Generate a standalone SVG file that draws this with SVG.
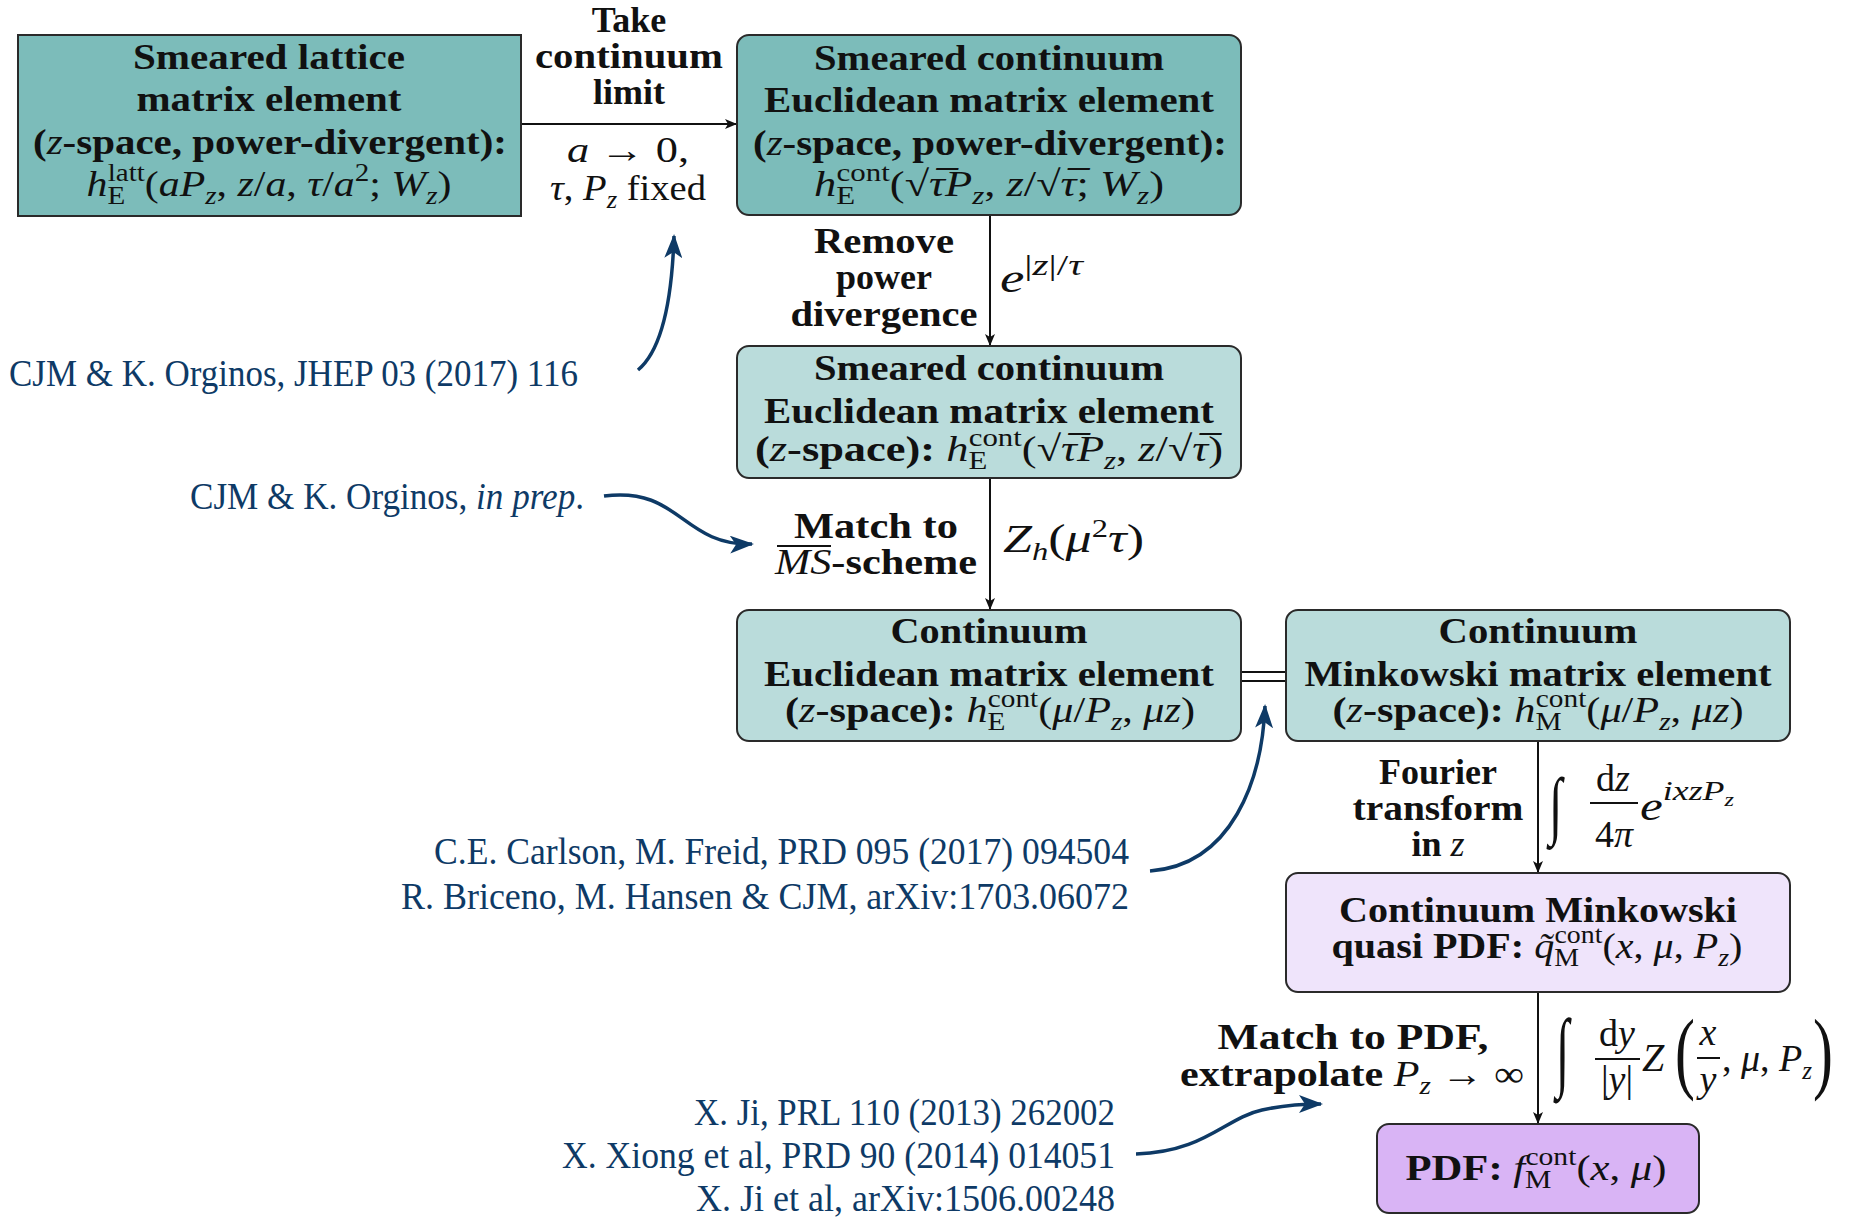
<svg xmlns="http://www.w3.org/2000/svg" width="1850" height="1218" viewBox="0 0 1850 1218">
<defs>
<marker id="ah" viewBox="0 0 12 10" refX="11" refY="5" markerWidth="12" markerHeight="10" markerUnits="userSpaceOnUse" orient="auto">
<path d="M0,0 L12,5 L0,10 L3,5 z" fill="#111"/>
</marker>
<marker id="bh" viewBox="0 0 24 18" refX="22" refY="9" markerWidth="24" markerHeight="18" markerUnits="userSpaceOnUse" orient="auto">
<path d="M0,0 L24,9 L0,18 L6,9 z" fill="#0e3a66"/>
</marker>
</defs>
<style>
.box{stroke:#2a2a2a;stroke-width:2}
.dark{fill:#7cbcba}
.light{fill:#badcdb}
.lav{fill:#efe4fb}
.pur{fill:#d9b4f5}
.t{font-family:"Liberation Serif",serif;font-weight:bold;font-size:36px;fill:#111;text-anchor:middle}
.m{font-family:"Liberation Serif",serif;font-weight:normal;font-size:36px;fill:#111}
.i{font-style:italic;font-weight:normal}
.n{font-weight:normal}
.s{font-size:25px;font-weight:normal}
.big{font-family:"Liberation Serif",serif;font-weight:normal;fill:#111}
.cite{font-family:"Liberation Serif",serif;font-size:38px;fill:#0e3a66}
.con{stroke:#111;stroke-width:2;fill:none}
.bc{stroke:#0e3a66;stroke-width:3.5;fill:none}
</style>

<g id="connectors">
<line class="con" x1="521" y1="124" x2="736" y2="124" marker-end="url(#ah)"/>
<line class="con" x1="990" y1="215" x2="990" y2="345" marker-end="url(#ah)"/>
<line class="con" x1="990" y1="478" x2="990" y2="609" marker-end="url(#ah)"/>
<line class="con" x1="1538" y1="741" x2="1538" y2="872" marker-end="url(#ah)"/>
<line class="con" x1="1538" y1="992" x2="1538" y2="1123" marker-end="url(#ah)"/>
<line class="con" x1="1241" y1="672" x2="1286" y2="672" stroke-width="2.5"/>
<line class="con" x1="1241" y1="681" x2="1286" y2="681" stroke-width="2.5"/>
<path class="bc" d="M638,370 C662,350 672,300 674,236" marker-end="url(#bh)"/>
<path class="bc" d="M604,496 C680,486 682,546 752,544" marker-end="url(#bh)"/>
<path class="bc" d="M1150,871 C1232,865 1262,780 1265,706" marker-end="url(#bh)"/>
<path class="bc" d="M1136,1154 C1205,1152 1225,1118 1262,1110 C1285,1105 1300,1104 1321,1104" marker-end="url(#bh)"/>
</g>

<g id="edge-labels">
<text class="t" x="629" y="32">Take</text>
<text class="t" x="629" y="68" textLength="188" lengthAdjust="spacingAndGlyphs">continuum</text>
<text class="t" x="629" y="104">limit</text>
<text class="m" x="628" y="162" text-anchor="middle" textLength="122" lengthAdjust="spacingAndGlyphs"><tspan class="i">a</tspan> → 0,</text>
<text class="m" x="628" y="200" text-anchor="middle" textLength="156" lengthAdjust="spacingAndGlyphs"><tspan class="i">τ</tspan>, <tspan class="i">P</tspan><tspan class="s i" dy="8">z</tspan><tspan dy="-8"> fixed</tspan></text>

<text class="t" x="884" y="253" textLength="140" lengthAdjust="spacingAndGlyphs">Remove</text>
<text class="t" x="884" y="289">power</text>
<text class="t" x="884" y="326" textLength="187" lengthAdjust="spacingAndGlyphs">divergence</text>
<text class="m" x="1000" y="292" style="font-size:40px" textLength="83" lengthAdjust="spacingAndGlyphs"><tspan class="i">e</tspan><tspan style="font-size:30px" dy="-17">|<tspan class="i">z</tspan>|/<tspan class="i">τ</tspan></tspan></text>

<text class="t" x="876" y="538" textLength="164" lengthAdjust="spacingAndGlyphs">Match to</text>
<text class="t" x="876" y="574" textLength="202" lengthAdjust="spacingAndGlyphs"><tspan class="i">MS</tspan>-scheme</text>
<line x1="777" y1="546" x2="831" y2="546" stroke="#111" stroke-width="1.8"/>
<text class="m" x="1003" y="552" textLength="141" lengthAdjust="spacingAndGlyphs" style="font-size:40px"><tspan class="i">Z</tspan><tspan class="s i" dy="8">h</tspan><tspan dy="-8">(</tspan><tspan class="i">μ</tspan><tspan class="s" dy="-15">2</tspan><tspan class="i" dy="15">τ</tspan>)</text>

<text class="t" x="1438" y="784">Fourier</text>
<text class="t" x="1438" y="820" textLength="171" lengthAdjust="spacingAndGlyphs">transform</text>
<text class="t" x="1438" y="856">in <tspan class="i">z</tspan></text>
<g id="fourier-formula">
<text class="big" transform="translate(1549 830) scale(1.1 1.7)" style="font-size:44px">∫</text>
<text class="m" x="1613" y="791" text-anchor="middle" style="font-size:38px">d<tspan class="i">z</tspan></text>
<line x1="1590" y1="803" x2="1638" y2="803" stroke="#111" stroke-width="2"/>
<text class="m" x="1614" y="847" text-anchor="middle" style="font-size:38px">4<tspan class="i">π</tspan></text>
<text class="m i" x="1640" y="820" style="font-size:40px" textLength="94" lengthAdjust="spacingAndGlyphs">e<tspan style="font-size:28px" dy="-20">ixzP</tspan><tspan style="font-size:19px" dy="6">z</tspan></text>
</g>

<text class="t" x="1353" y="1049" textLength="271" lengthAdjust="spacingAndGlyphs">Match to PDF,</text>
<text class="t" x="1352" y="1086" textLength="344" lengthAdjust="spacingAndGlyphs">extrapolate <tspan class="i">P</tspan><tspan class="s i" dy="8">z</tspan><tspan class="n" dy="-8"> → ∞</tspan></text>
<g id="match-formula">
<text class="big" transform="translate(1556 1080) scale(1.1 2.0)" style="font-size:44px">∫</text>
<text class="m" x="1617" y="1046" text-anchor="middle" style="font-size:38px">d<tspan class="i">y</tspan></text>
<line x1="1595" y1="1059" x2="1640" y2="1059" stroke="#111" stroke-width="2"/>
<text class="m" x="1617" y="1092" text-anchor="middle" style="font-size:38px">|<tspan class="i">y</tspan>|</text>
<text class="m i" x="1642" y="1071" style="font-size:40px">Z</text>
<text class="big" transform="translate(1675 1082) scale(0.65 1)" style="font-size:92px">(</text>
<text class="m i" x="1708" y="1045" text-anchor="middle" style="font-size:38px">x</text>
<line x1="1697" y1="1058" x2="1720" y2="1058" stroke="#111" stroke-width="2"/>
<text class="m i" x="1708" y="1092" text-anchor="middle" style="font-size:38px">y</text>
<text class="m" x="1722" y="1071" style="font-size:38px">, <tspan class="i">μ</tspan>, <tspan class="i">P</tspan><tspan class="s i" dy="8">z</tspan></text>
<text class="big" transform="translate(1813 1082) scale(0.65 1)" style="font-size:92px">)</text>
</g>
</g>

<g id="node-lattice">
<rect class="box dark" x="18" y="35" width="503" height="181" stroke-width="2.5"/>
<text class="t" x="269" y="69" textLength="272" lengthAdjust="spacingAndGlyphs">Smeared lattice</text>
<text class="t" x="269" y="111" textLength="265" lengthAdjust="spacingAndGlyphs">matrix element</text>
<text class="t" x="270" y="154" textLength="474" lengthAdjust="spacingAndGlyphs">(<tspan class="i">z</tspan>-space, power-divergent):</text>
<text class="m" x="269" y="196" text-anchor="middle" textLength="365" lengthAdjust="spacingAndGlyphs"><tspan class="i">h</tspan><tspan class="s" dy="8">E</tspan><tspan class="s" dx="-15" dy="-23">latt</tspan><tspan dy="15">(</tspan><tspan class="i">aP</tspan><tspan class="s i" dy="8">z</tspan><tspan dy="-8">, </tspan><tspan class="i">z</tspan>/<tspan class="i">a</tspan>, <tspan class="i">τ</tspan>/<tspan class="i">a</tspan><tspan class="s" dy="-15">2</tspan><tspan dy="15">; </tspan><tspan class="i">W</tspan><tspan class="s i" dy="8">z</tspan><tspan dy="-8">)</tspan></text>
</g>

<g id="node-smeared-pd">
<rect class="box dark" x="737" y="35" width="504" height="180" rx="12"/>
<text class="t" x="989" y="70" textLength="350" lengthAdjust="spacingAndGlyphs">Smeared continuum</text>
<text class="t" x="989" y="112" textLength="450" lengthAdjust="spacingAndGlyphs">Euclidean matrix element</text>
<text class="t" x="990" y="155" textLength="474" lengthAdjust="spacingAndGlyphs">(<tspan class="i">z</tspan>-space, power-divergent):</text>
<text class="m" x="989" y="196" text-anchor="middle" textLength="350" lengthAdjust="spacingAndGlyphs"><tspan class="i">h</tspan><tspan class="s" dy="8">E</tspan><tspan class="s" dx="-15" dy="-23">cont</tspan><tspan dy="15">(√</tspan><tspan class="i">τ̅</tspan><tspan class="i">P</tspan><tspan class="s i" dy="8">z</tspan><tspan dy="-8">, </tspan><tspan class="i">z</tspan>/√<tspan class="i">τ̅</tspan>; <tspan class="i">W</tspan><tspan class="s i" dy="8">z</tspan><tspan dy="-8">)</tspan></text>
</g>

<g id="node-smeared">
<rect class="box light" x="737" y="346" width="504" height="132" rx="12"/>
<text class="t" x="989" y="380" textLength="350" lengthAdjust="spacingAndGlyphs">Smeared continuum</text>
<text class="t" x="989" y="423" textLength="450" lengthAdjust="spacingAndGlyphs">Euclidean matrix element</text>
<text class="t" x="989" y="461" textLength="468" lengthAdjust="spacingAndGlyphs">(<tspan class="i">z</tspan>-space): <tspan class="n"><tspan class="i">h</tspan><tspan class="s" dy="8">E</tspan><tspan class="s" dx="-15" dy="-23">cont</tspan><tspan dy="15">(√</tspan><tspan class="i">τ̅</tspan><tspan class="i">P</tspan><tspan class="s i" dy="8">z</tspan><tspan dy="-8">, </tspan><tspan class="i">z</tspan>/√<tspan class="i">τ̅</tspan>)</tspan></text>
</g>

<g id="node-euclid">
<rect class="box light" x="737" y="610" width="504" height="131" rx="12"/>
<text class="t" x="989" y="643" textLength="197" lengthAdjust="spacingAndGlyphs">Continuum</text>
<text class="t" x="989" y="686" textLength="450" lengthAdjust="spacingAndGlyphs">Euclidean matrix element</text>
<text class="t" x="990" y="722" textLength="410" lengthAdjust="spacingAndGlyphs">(<tspan class="i">z</tspan>-space): <tspan class="n"><tspan class="i">h</tspan><tspan class="s" dy="8">E</tspan><tspan class="s" dx="-15" dy="-23">cont</tspan><tspan dy="15">(</tspan><tspan class="i">μ</tspan>/<tspan class="i">P</tspan><tspan class="s i" dy="8">z</tspan><tspan dy="-8">, </tspan><tspan class="i">μz</tspan>)</tspan></text>
</g>

<g id="node-minkowski">
<rect class="box light" x="1286" y="610" width="504" height="131" rx="12"/>
<text class="t" x="1538" y="643" textLength="199" lengthAdjust="spacingAndGlyphs">Continuum</text>
<text class="t" x="1538" y="686" textLength="467" lengthAdjust="spacingAndGlyphs">Minkowski matrix element</text>
<text class="t" x="1538" y="722" textLength="411" lengthAdjust="spacingAndGlyphs">(<tspan class="i">z</tspan>-space): <tspan class="n"><tspan class="i">h</tspan><tspan class="s" dy="8">M</tspan><tspan class="s" dx="-22" dy="-23">cont</tspan><tspan dy="15">(</tspan><tspan class="i">μ</tspan>/<tspan class="i">P</tspan><tspan class="s i" dy="8">z</tspan><tspan dy="-8">, </tspan><tspan class="i">μz</tspan>)</tspan></text>
</g>

<g id="node-quasi">
<rect class="box lav" x="1286" y="873" width="504" height="119" rx="12"/>
<text class="t" x="1538" y="922" textLength="398" lengthAdjust="spacingAndGlyphs">Continuum Minkowski</text>
<text class="t" x="1537" y="958" textLength="411" lengthAdjust="spacingAndGlyphs">quasi PDF: <tspan class="n"><tspan class="i">q̃</tspan><tspan class="s" dy="8">M</tspan><tspan class="s" dx="-22" dy="-23">cont</tspan><tspan dy="15">(</tspan><tspan class="i">x</tspan>, <tspan class="i">μ</tspan>, <tspan class="i">P</tspan><tspan class="s i" dy="8">z</tspan><tspan dy="-8">)</tspan></tspan></text>
</g>

<g id="node-pdf">
<rect class="box pur" x="1377" y="1124" width="322" height="89" rx="12"/>
<text class="t" x="1536" y="1180" textLength="261" lengthAdjust="spacingAndGlyphs">PDF: <tspan class="n"><tspan class="i">f</tspan><tspan class="s" dy="8">M</tspan><tspan class="s" dx="-22" dy="-23">cont</tspan><tspan dy="15">(</tspan><tspan class="i">x</tspan>, <tspan class="i">μ</tspan>)</tspan></text>
</g>

<g id="citations">
<text class="cite" x="9" y="386" textLength="569" lengthAdjust="spacingAndGlyphs">CJM &amp; K. Orginos, JHEP 03 (2017) 116</text>
<text class="cite" x="190" y="509" textLength="394" lengthAdjust="spacingAndGlyphs">CJM &amp; K. Orginos, <tspan font-style="italic">in prep</tspan>.</text>
<text class="cite" x="434" y="864" textLength="695" lengthAdjust="spacingAndGlyphs">C.E. Carlson, M. Freid, PRD 095 (2017) 094504</text>
<text class="cite" x="401" y="909" textLength="728" lengthAdjust="spacingAndGlyphs">R. Briceno, M. Hansen &amp; CJM, arXiv:1703.06072</text>
<text class="cite" x="694" y="1125" textLength="421" lengthAdjust="spacingAndGlyphs">X. Ji, PRL 110 (2013) 262002</text>
<text class="cite" x="562" y="1168" textLength="553" lengthAdjust="spacingAndGlyphs">X. Xiong et al, PRD 90 (2014) 014051</text>
<text class="cite" x="696" y="1211" textLength="419" lengthAdjust="spacingAndGlyphs">X. Ji et al, arXiv:1506.00248</text>
</g>
</svg>
